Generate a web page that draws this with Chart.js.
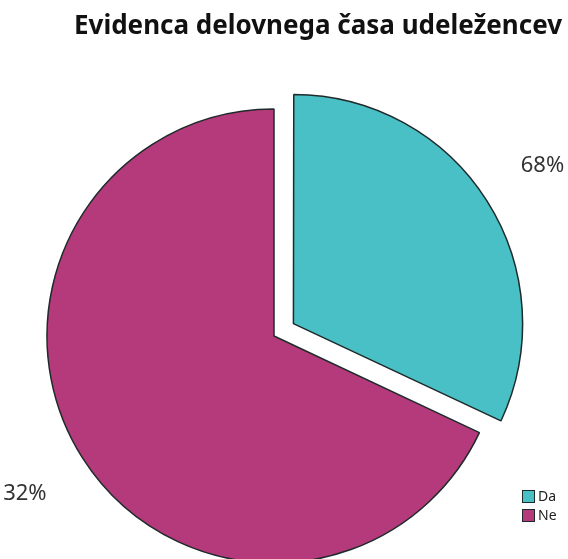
<!DOCTYPE html>
<html>
<head>
<meta charset="utf-8">
<script src="https://cdn.jsdelivr.net/npm/chart.js@4"></script>
<style>
	html, body { margin: 0; padding: 0; background: #fff; }
	#wrap { width: 568px; height: 559px; }
</style>
</head>
<body>
<div id="wrap"><canvas id="evidenca-pie"></canvas></div>
<script>
const categories = ['Da', 'Ne'];
const shares = [32, 68];
const sliceColors = ['#48c0c6', '#b53a7b'];
// Chart.js v4 moves an arc out by offset / 4
const sliceOffsets = [92, 0];
const chartTitle = 'Evidenca delovnega časa udeležencev';

// Heading, right-aligned at the top of the canvas
const heading = {
	id: 'heading',
	afterDraw(chart) {
		const { ctx } = chart;
		ctx.save();
		ctx.font = 'bold 26px "Noto Sans"';
		ctx.fillStyle = '#111';
		ctx.textAlign = 'right';
		ctx.textBaseline = 'alphabetic';
		ctx.fillText(chartTitle, chart.width - 6, 34);
		ctx.restore();
	}
};

// Percent labels, placed outside the pie; each one is laid out one slot over
const percentLabels = {
	id: 'percentLabels',
	afterDatasetsDraw(chart) {
		const { ctx } = chart;
		const arcs = chart.getDatasetMeta(0).data;
		const values = chart.data.datasets[0].data;
		const total = values.reduce((a, b) => a + b, 0);
		ctx.save();
		ctx.font = '22px "Noto Sans"';
		ctx.fillStyle = '#333';
		ctx.textAlign = 'center';
		ctx.textBaseline = 'middle';
		values.forEach((v, i) => {
			const arc = arcs[(i + 1) % arcs.length];
			const { x, y, startAngle, endAngle, outerRadius } = arc.getProps(['x', 'y', 'startAngle', 'endAngle', 'outerRadius']);
			const mid = (startAngle + endAngle) / 2;
			const r = outerRadius + 68 + (arc.options.offset || 0) / 4;
			const text = Math.round((v / total) * 100) + '%';
			ctx.fillText(text, x + Math.cos(mid) * r, y + Math.sin(mid) * r);
		});
		ctx.restore();
	}
};

// Small legend in the bottom-right corner
const cornerLegend = {
	id: 'cornerLegend',
	afterDraw(chart) {
		const { ctx } = chart;
		const ds = chart.data.datasets[0];
		ctx.save();
		ctx.font = '14px "Noto Sans"';
		ctx.textBaseline = 'middle';
		chart.data.labels.forEach((label, i) => {
			const bx = 522;
			const by = 490 + i * 19;
			ctx.fillStyle = ds.backgroundColor[i];
			ctx.fillRect(bx, by, 13, 13);
			ctx.strokeStyle = '#1f2a2a';
			ctx.lineWidth = 1;
			ctx.strokeRect(bx + 0.5, by + 0.5, 12, 12);
			ctx.fillStyle = '#222';
			ctx.fillText(label, bx + 16, by + 7);
		});
		ctx.restore();
	}
};

new Chart(document.getElementById('evidenca-pie'), {
	type: 'pie',
	data: {
		labels: categories,
		datasets: [
			{
				data: shares,
				backgroundColor: sliceColors,
				borderColor: '#1f2a2a',
				borderWidth: 1.5,
				offset: sliceOffsets,
				radius: 227,
				clip: false,
			},
		],
	},
	options: {
		responsive: true,
		maintainAspectRatio: false,
		animation: false,
		layout: {
			padding: { left: 0, right: 20, top: 113, bottom: 0 },
		},
		plugins: {
			legend: { display: false },
			tooltip: { enabled: false },
			title: { display: false },
		},
	},
	plugins: [percentLabels, cornerLegend, heading],
});
</script>
</body>
</html>
